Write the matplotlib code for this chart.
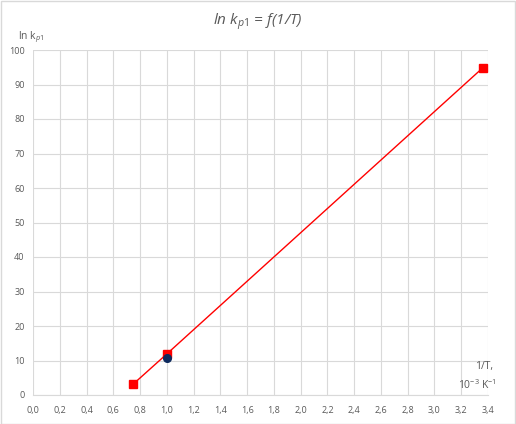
import matplotlib.pyplot as plt
import numpy as np

# data
inv_t = [0.75, 1.0, 3.36]
ln_kp1 = [3.2, 11.9, 94.8]
exp_inv_t = [1.0]
exp_ln_kp1 = [10.7]

x_ticks = np.arange(0, 3.41, 0.2)
y_ticks = np.arange(0, 101, 10)

grey = '#595959'
plt.rcParams['font.family'] = ['Open Sans', 'DejaVu Sans']
plt.rcParams['mathtext.fontset'] = 'custom'
plt.rcParams['mathtext.rm'] = 'Open Sans'
plt.rcParams['mathtext.it'] = 'Open Sans:italic'

fig = plt.figure(figsize=(5.16, 4.24), dpi=100)
ax = fig.add_axes([33 / 516, 29 / 424, 455 / 516, 345 / 424])

ax.plot(inv_t, ln_kp1, color='red', lw=1.0, marker='s', markersize=6,
        markeredgecolor='red', zorder=3)
ax.plot(exp_inv_t, exp_ln_kp1, linestyle='none', marker='o', markersize=5.5,
        color='#0d2a5e', zorder=4)

ax.set_xlim(0, 3.4)
ax.set_ylim(0, 100)
ax.set_xticks(x_ticks)
ax.set_yticks(y_ticks)
ax.set_xticklabels([f'{v:.1f}'.replace('.', ',') for v in x_ticks])
ax.set_yticklabels([str(int(v)) for v in y_ticks])
ax.tick_params(length=0, labelsize=6.5, labelcolor=grey, pad=8)
ax.tick_params(axis='y', pad=6)

ax.grid(True, color='#d9d9d9', lw=0.8)
ax.set_axisbelow(True)
for side in ['top', 'right', 'left']:
    ax.spines[side].set_visible(False)
ax.spines['bottom'].set_color('#d9d9d9')

fig.text(0.5, 1 - 22 / 424, r'ln k$_{\mathit{p1}}$ = f(1/T)', ha='center', va='center',
         fontsize=11, color=grey, style='italic')
fig.text(18 / 516, 1 - 37 / 424, r'ln k$_{p1}$', ha='left', va='center',
         fontsize=7.5, color=grey)
fig.text(493 / 516, 1 - 366 / 424, '1/T,', ha='right', va='center',
         fontsize=7.5, color=grey)
fig.text(496 / 516, 1 - 385 / 424, r'10$^{-3}$ K$^{-1}$', ha='right', va='center',
         fontsize=7.5, color=grey)

fig.patches.append(plt.Rectangle((0.001, 0.001), 0.997, 0.997, transform=fig.transFigure,
                                 fill=False, edgecolor='#d9d9d9', lw=1))

fig.savefig('out.png', dpi=100)
